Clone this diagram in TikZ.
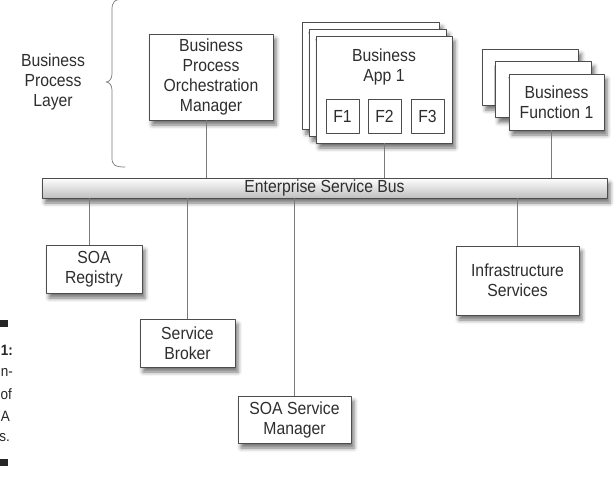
\documentclass[tikz,border=0pt]{standalone}
\usepackage{fontspec}
\setmainfont[FakeStretch=0.9]{Liberation Sans}
\usetikzlibrary{shadows.blur}
\definecolor{boxline}{HTML}{4D4D4D}
\definecolor{linkgray}{HTML}{7A7A7A}
\definecolor{txtgray}{HTML}{2E2E2E}
\tikzset{
	plainbox/.style={draw=boxline,fill=white,line width=0.7pt,inner sep=2pt,align=center,text=txtgray,font=\fontsize{17.5}{20}\selectfont},
	box/.style={plainbox,blur shadow={shadow xshift=3pt,shadow yshift=-5pt,shadow blur radius=4pt,shadow opacity=55}},
	link/.style={draw=linkgray,line width=0.7pt},
	txt/.style={align=center,text=txtgray,font=\fontsize{17.5}{20}\selectfont},
	capt/.style={anchor=east,inner sep=0pt,text=black!85,font=\fontsize{15}{22}\selectfont}
}
\begin{document}
\begin{tikzpicture}[x=1pt,y=-1pt,line join=round,line cap=round]
	\useasboundingbox (0,0) rectangle (615,476);
	\node[txt] (layer) at (53,82) {Business\\Process\\Layer};
	\draw[link] (125,-1) .. controls (114,-1) and (112,2) .. (112,10) -- (112,74) .. controls (112,79) and (109,82) .. (106,82) .. controls (109,82) and (112,85) .. (112,90) -- (112,158) .. controls (112,165) and (115,167) .. (125,167);
	\node[box,minimum width=124pt,minimum height=86pt] (bpom) at (211,77) {Business\\Process\\Orchestration\\Manager};
	\foreach \d in {2,1}
		\node[box,minimum width=137pt,minimum height=107pt] at (384-6.5*\d,89.5-7*\d) {};
	\node[box,minimum width=136pt,minimum height=107pt] (app) at (384,89.5) {};
	\node[txt] (apptext) at (384,67) {Business\\App 1};
	\foreach \f/\x in {1/342.5,2/384.5,3/427.5}
		\node[plainbox,minimum width=33pt,minimum height=34pt] (f\f) at (\x,116) {F\f};
	\foreach \d in {2,1}
		\node[box,minimum width=96pt,minimum height=56pt] at (556.5-13*\d,102-12.5*\d) {};
	\node[box,minimum width=95pt,minimum height=56pt] (bf) at (556.5,102) {Business\\Function 1};
	\node[box,top color=white,bottom color=gray!50,minimum width=565pt,minimum height=20pt,inner sep=0pt] (bus) at (324.5,188) {Enterprise Service Bus};
	\node[box,minimum width=96pt,minimum height=48pt] (reg) at (94,269) {SOA\\Registry};
	\node[box,minimum width=95pt,minimum height=48pt] (broker) at (187.5,343) {Service\\Broker};
	\node[box,minimum width=113pt,minimum height=47pt] (mgr) at (294.5,419.5) {SOA Service\\Manager};
	\node[box,minimum width=123pt,minimum height=69pt] (infra) at (517.5,280.5) {Infrastructure\\Services};
	\draw[link] ([xshift=-5pt]bpom.south) -- ([xshift=-5pt]bpom.south |- bus.north);
	\draw[link] (app.south) -- (app.south |- bus.north);
	\draw[link] ([xshift=-5.5pt]bf.south) -- ([xshift=-5.5pt]bf.south |- bus.north);
	\draw[link] ([xshift=-5pt]reg.north) -- ([xshift=-5pt]reg.north |- bus.south);
	\draw[link] (broker.north) -- (broker.north |- bus.south);
	\draw[link] (mgr.north) -- (mgr.north |- bus.south);
	\draw[link] (infra.north) -- (infra.north |- bus.south);
	\fill[black!85] (0,320) rectangle (8,327);
	\node[capt] (c1) at (13,350) {\textbf{1:}};
	\node[capt] (c2) at (13,372) {n-};
	\node[capt] (c3) at (12,394) {of};
	\node[capt] (c4) at (10,416) {A};
	\node[capt] (c5) at (10,438) {s.};
	\fill[black!85] (0,459) rectangle (8,466);
\end{tikzpicture}
\end{document}
